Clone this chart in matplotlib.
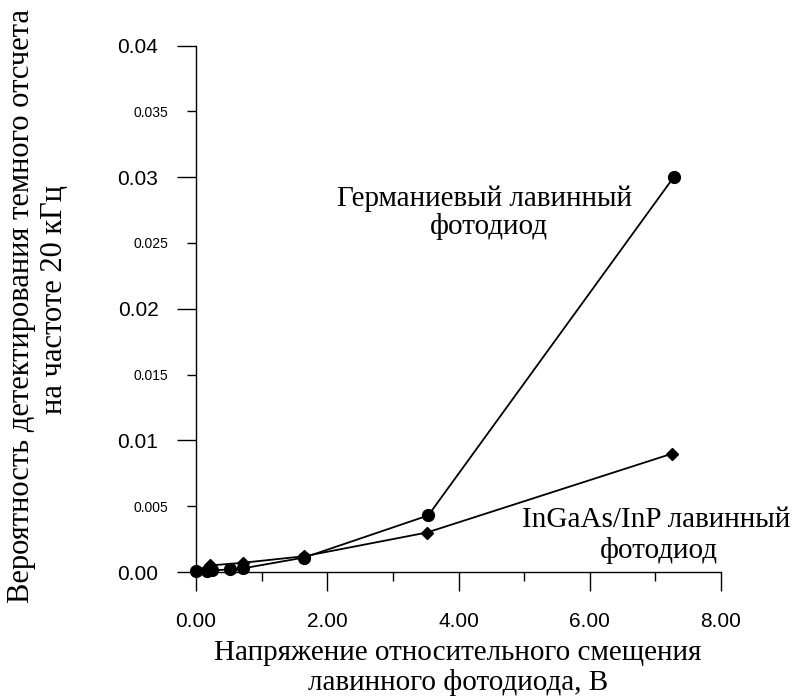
import matplotlib
matplotlib.use("Agg")
import matplotlib.pyplot as plt
from matplotlib.ticker import FixedLocator, FixedFormatter

# Data
ge_x = [0.0, 0.16, 0.24, 0.52, 0.72, 1.65, 3.54, 7.28]
ge_y = [0.00005, 0.00008, 0.00012, 0.0002, 0.00028, 0.0011, 0.0043, 0.0300]
ingaas_x = [0.0, 0.22, 0.71, 1.65, 3.52, 7.26]
ingaas_y = [0.0001, 0.0005, 0.0007, 0.0012, 0.0030, 0.0090]

x_major = [0, 2, 4, 6, 8]
x_major_labels = ["0.00", "2.00", "4.00", "6.00", "8.00"]
x_minor = [1, 3, 5, 7]
y_major = [0.0, 0.01, 0.02, 0.03, 0.04]
y_major_labels = ["0.00", "0.01", "0.02", "0.03", "0.04"]
y_minor = [0.005, 0.015, 0.025, 0.035]
y_minor_labels = ["0.005", "0.015", "0.025", "0.035"]

xlabel_lines = ["Напряжение относительного смещения", "лавинного фотодиода, В"]
ylabel_lines = ["Вероятность детектирования темного отсчета", "на частоте 20 кГц"]
ge_label = ["Германиевый лавинный", "фотодиод"]
ingaas_label = ["InGaAs/InP лавинный", "фотодиод"]

W, H = 797, 697
fig = plt.figure(figsize=(W / 100, H / 100), dpi=100)
L, R, T, B = 196, 721, 45.5, 572
ax = fig.add_axes([L / W, 1 - B / H, (R - L) / W, (B - T) / H])

ax.plot(ge_x, ge_y, color="black", lw=1.3, marker="o", ms=8.5, clip_on=False, zorder=3)
ax.plot(ingaas_x, ingaas_y, color="black", lw=1.3, marker="D", ms=6.5, clip_on=False, zorder=3)

ax.set_xlim(0, 8)
ax.set_ylim(0, 0.04)
for s in ("top", "right"):
    ax.spines[s].set_visible(False)
for s in ("left", "bottom"):
    ax.spines[s].set_linewidth(1.0)

ax.xaxis.set_major_locator(FixedLocator(x_major))
ax.xaxis.set_major_formatter(FixedFormatter(x_major_labels))
ax.xaxis.set_minor_locator(FixedLocator(x_minor))
ax.yaxis.set_major_locator(FixedLocator(y_major))
ax.yaxis.set_major_formatter(FixedFormatter(y_major_labels))
ax.yaxis.set_minor_locator(FixedLocator(y_minor))
ax.yaxis.set_minor_formatter(FixedFormatter(y_minor_labels))

sans = "Liberation Sans"
ax.tick_params(axis="both", which="major", direction="out", length=13.5, width=1.0,
               labelsize=15)
ax.tick_params(axis="both", which="minor", direction="out", length=6.5, width=1.0)
ax.tick_params(axis="y", which="minor", labelsize=10, pad=13.5)
ax.tick_params(axis="y", which="major", pad=13.5)
ax.tick_params(axis="x", which="major", pad=15)
for lab in ax.get_xticklabels() + ax.get_yticklabels() + ax.get_yticklabels(minor=True):
    lab.set_fontfamily(sans)

serif = "Liberation Serif"
fs = 21
fsy = 22

def px(x, y):
    return x / W, 1 - y / H

fig.text(*px(458, 660), xlabel_lines[0], ha="center", va="baseline", fontsize=fs, family=serif)
fig.text(*px(458, 690), xlabel_lines[1], ha="center", va="baseline", fontsize=fs, family=serif)
fig.text(*px(22, 306), ylabel_lines[0], ha="center", va="center", rotation=90, fontsize=fsy, family=serif)
fig.text(*px(55, 300), ylabel_lines[1], ha="center", va="center", rotation=90, fontsize=fsy, family=serif)

fig.text(*px(485, 206), ge_label[0], ha="center", va="baseline", fontsize=fs, family=serif)
fig.text(*px(489, 234), ge_label[1], ha="center", va="baseline", fontsize=fs, family=serif)
fig.text(*px(656, 527), ingaas_label[0], ha="center", va="baseline", fontsize=fs, family=serif)
fig.text(*px(659, 558), ingaas_label[1], ha="center", va="baseline", fontsize=fs, family=serif)

fig.savefig("out.png", dpi=100)
